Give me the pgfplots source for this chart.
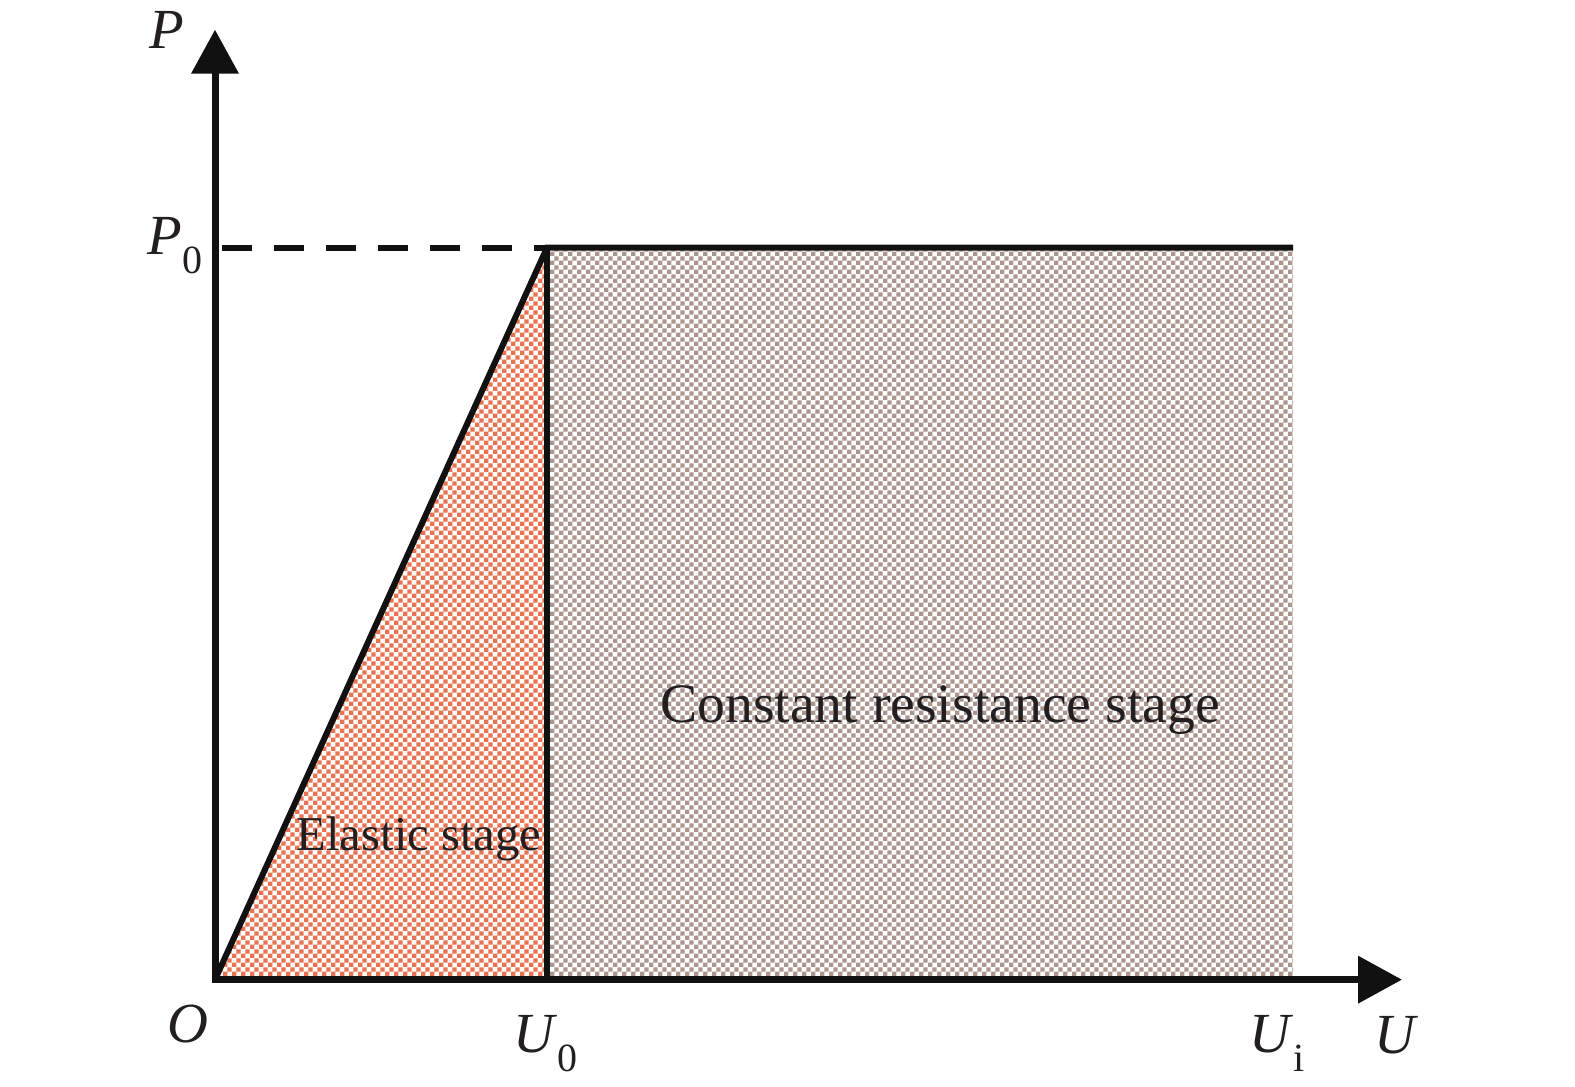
\documentclass[border=0pt]{standalone}
\usepackage{pgfplots}
\pgfplotsset{compat=1.18}
\usepackage{fontspec}
\setmainfont{Liberation Serif}
\usetikzlibrary{patterns,arrows.meta}

% fine checkerboard used to shade the two stages
\pgfdeclarepatternformonly{finechecker}{\pgfpointorigin}{\pgfqpoint{2.8pt}{2.8pt}}{\pgfqpoint{2.8pt}{2.8pt}}{%
  \pgfpathrectangle{\pgfpointorigin}{\pgfqpoint{1.4pt}{1.4pt}}%
  \pgfpathrectangle{\pgfqpoint{1.4pt}{1.4pt}}{\pgfqpoint{1.4pt}{1.4pt}}%
  \pgfusepath{fill}}

\definecolor{elastic}{RGB}{233,114,80}
\definecolor{constres}{RGB}{170,150,142}
\definecolor{ink}{RGB}{17,17,17}
\definecolor{txt}{RGB}{35,31,32}

\newcommand{\sub}[1]{\raisebox{-0.75ex}{\fontsize{12}{12}\selectfont #1}}

\begin{document}
\begin{tikzpicture}
\begin{axis}[
  scale only axis, width=472.5pt, height=325.5pt,
  xmin=-2.15, xmax=13.60, ymin=-1.07, ymax=9.78,
  hide axis, clip=false,
]
% stage areas
\addplot[fill=white, draw=none] coordinates {(0,0) (3.32,7.32) (3.32,0)} -- cycle;
\addplot[pattern=finechecker, pattern color=elastic, draw=none] coordinates {(0,0) (3.32,7.32) (3.32,0)} -- cycle;
\addplot[pattern=finechecker, pattern color=constres, draw=none] coordinates {(3.32,0) (3.32,7.32) (10.78,7.32) (10.78,0)} -- cycle;

% load-displacement curve
\addplot[ink, line width=1.8pt, line join=miter] coordinates {(0,0) (3.32,7.32) (10.78,7.32)};
\addplot[ink, line width=1.8pt] coordinates {(3.32,0) (3.32,7.32)};
\addplot[ink, line width=1.8pt, dash pattern=on 9pt off 6.6pt, dash phase=-2pt] coordinates {(0,7.32) (3.32,7.32)};

% axes with arrow heads
\draw[ink, line width=2.1pt, -{Triangle[length=13.2pt, width=13.8pt]}] (axis cs:-0.03,0) -- (axis cs:11.87,0);
\draw[ink, line width=2.1pt, -{Triangle[length=13.2pt, width=13.8pt]}] (axis cs:0,-0.03) -- (axis cs:0,9.50);

% labels
\node[txt, font=\fontsize{17}{17}\selectfont\itshape] at (axis cs:-0.48,9.50) {P};
\node[txt, font=\fontsize{17}{17}\selectfont] at (axis cs:-0.40,7.34) {\textit{P}\sub{0}};
\node[txt, font=\fontsize{17}{17}\selectfont\itshape] at (axis cs:-0.27,-0.44) {O};
\node[txt, font=\fontsize{17}{17}\selectfont] at (axis cs:3.30,-0.64) {\textit{U}\sub{0}};
\node[txt, font=\fontsize{17}{17}\selectfont] at (axis cs:10.62,-0.64) {\textit{U}\sub{i}};
\node[txt, font=\fontsize{17}{17}\selectfont\itshape] at (axis cs:11.80,-0.56) {U};

\node[txt, font=\fontsize{16.7}{16.7}\selectfont] at (axis cs:7.25,2.70) {Constant resistance stage};
\node[txt, font=\fontsize{14.6}{14.6}\selectfont] at (axis cs:2.04,1.41) {Elastic stage};

% page extent
\path (axis cs:-2.15,-1.07) rectangle (axis cs:13.60,9.78);
\end{axis}
\end{tikzpicture}
\end{document}
